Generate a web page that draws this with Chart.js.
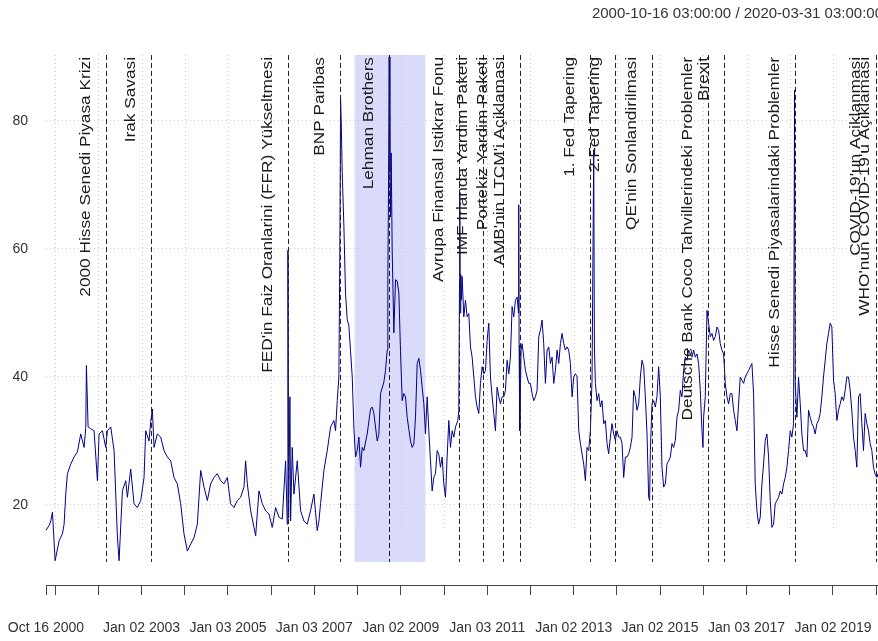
<!DOCTYPE html>
<html>
<head>
<meta charset="utf-8">
<script src="https://cdn.jsdelivr.net/npm/chart.js@4.4.1/dist/chart.umd.min.js"></script>
<style>
  html, body { margin: 0; padding: 0; background: #fff; overflow: hidden; }
  #wrap { width: 878px; height: 641px; overflow: hidden; }
</style>
</head>
<body>
<div id="wrap"><canvas id="volChart" width="892" height="641"></canvas></div>
<script>
// Series: dates as decimal years, values of the index
const dates = [
  2000.785,2000.862,2000.901,2000.939,2001.001,2001.093,2001.170,2001.209,2001.247,2001.286,
  2001.363,2001.440,2001.517,2001.594,2001.671,2001.710,2001.725,2001.764,2001.825,2001.902,
  2001.980,2002.018,2002.095,2002.172,2002.211,2002.288,2002.365,2002.442,2002.481,2002.558,
  2002.635,2002.673,2002.750,2002.827,2002.904,2002.982,2003.059,2003.097,2003.174,2003.213,
  2003.251,2003.290,2003.367,2003.444,2003.521,2003.598,2003.675,2003.752,2003.829,2003.906,
  2003.983,2004.061,2004.138,2004.215,2004.292,2004.369,2004.446,2004.523,2004.600,2004.677,
  2004.754,2004.831,2004.908,2004.985,2005.062,2005.140,2005.217,2005.294,2005.371,2005.409,
  2005.448,2005.525,2005.602,2005.641,2005.718,2005.795,2005.872,2005.949,2006.026,2006.103,
  2006.180,2006.257,2006.334,2006.373,2006.388,2006.404,2006.434,2006.450,2006.488,2006.527,
  2006.604,2006.681,2006.758,2006.835,2006.912,2006.989,2007.066,2007.105,2007.143,2007.220,
  2007.298,2007.375,2007.452,2007.490,2007.529,2007.567,2007.590,2007.606,2007.621,2007.644,
  2007.683,2007.721,2007.760,2007.798,2007.837,2007.876,2007.914,2007.953,2007.991,2008.030,
  2008.068,2008.107,2008.145,2008.222,2008.300,2008.338,2008.377,2008.454,2008.492,2008.531,
  2008.608,2008.646,2008.685,2008.700,2008.716,2008.731,2008.747,2008.762,2008.777,2008.800,
  2008.839,2008.878,2008.916,2008.955,2008.993,2009.032,2009.070,2009.109,2009.147,2009.224,
  2009.263,2009.301,2009.340,2009.379,2009.417,2009.456,2009.494,2009.533,2009.571,2009.610,
  2009.648,2009.687,2009.725,2009.764,2009.802,2009.841,2009.880,2009.918,
  2009.957,2009.995,2010.034,2010.072,2010.111,2010.149,2010.188,2010.227,2010.265,2010.319,
  2010.342,2010.358,2010.365,2010.373,2010.388,2010.404,2010.419,2010.458,2010.496,2010.535,
  2010.573,2010.612,2010.650,2010.689,2010.727,2010.766,2010.805,2010.843,2010.882,2010.920,
  2010.959,2010.997,2011.036,2011.074,2011.113,2011.151,2011.190,2011.228,2011.267,2011.306,
  2011.344,2011.383,2011.421,2011.460,2011.498,2011.537,2011.575,2011.614,2011.652,2011.691,
  2011.722,2011.729,2011.737,2011.753,2011.783,2011.807,2011.845,2011.884,2011.922,2011.961,
  2011.999,2012.038,2012.076,2012.115,2012.153,2012.192,2012.230,2012.269,2012.307,2012.346,
  2012.385,2012.423,2012.462,2012.500,2012.539,2012.577,2012.616,2012.654,2012.693,2012.731,
  2012.770,2012.808,2012.847,2012.885,2012.924,2012.963,2013.001,2013.040,2013.078,2013.117,
  2013.155,2013.194,2013.232,2013.271,2013.309,2013.348,2013.386,2013.425,2013.464,2013.479,
  2013.502,2013.541,2013.579,2013.618,2013.656,2013.695,2013.733,2013.772,2013.810,2013.849,
  2013.887,2013.926,2013.964,2014.003,2014.042,2014.080,2014.119,2014.157,2014.196,2014.234,
  2014.273,2014.311,2014.350,2014.388,2014.427,2014.465,2014.504,2014.543,2014.581,2014.620,
  2014.658,2014.697,2014.735,2014.758,2014.774,2014.812,2014.851,2014.889,2014.928,2014.966,
  2015.005,2015.043,2015.082,2015.121,2015.159,2015.198,2015.236,2015.275,2015.313,2015.352,
  2015.390,2015.429,2015.467,2015.506,2015.544,2015.583,2015.622,2015.660,2015.699,2015.737,
  2015.776,2015.814,2015.853,2015.891,2015.930,2015.968,2015.991,2016.007,2016.045,2016.084,
  2016.122,2016.161,2016.200,2016.238,2016.277,2016.315,2016.354,2016.392,2016.431,2016.469,
  2016.508,2016.546,2016.585,2016.623,2016.662,2016.700,2016.739,2016.778,2016.816,2016.855,
  2016.893,2016.932,2016.970,2017.009,2017.047,2017.086,2017.124,2017.163,2017.201,2017.240,
  2017.279,2017.317,2017.356,2017.394,2017.433,2017.471,2017.510,2017.548,2017.587,2017.625,
  2017.664,2017.702,2017.741,2017.779,2017.818,2017.857,2017.895,2017.934,2017.972,2018.011,
  2018.049,2018.088,2018.111,2018.126,2018.165,2018.203,2018.242,2018.280,2018.319,2018.358,
  2018.396,2018.435,2018.473,2018.512,2018.550,2018.589,2018.627,2018.666,2018.704,2018.743,
  2018.781,2018.820,2018.858,2018.897,2018.936,2018.974,2019.013,2019.051,2019.090,2019.128,
  2019.167,2019.205,2019.244,2019.282,2019.321,2019.359,2019.398,2019.436,2019.475,2019.514,
  2019.552,2019.591,2019.629,2019.668,2019.706,2019.745,2019.783,2019.822,2019.860,2019.899,
  2019.937,2019.976,2020.015,2020.080,2020.140,2020.200,2020.250
];
const values = [
  16.0,16.8,17.5,18.9,11.3,14.4,15.5,17.0,21.7,24.9,
  26.4,27.5,28.3,31.1,29.0,32.0,41.8,32.2,31.9,31.6,
  23.8,31.1,31.6,29.0,31.6,32.2,28.5,15.0,11.3,22.2,
  23.8,21.2,25.6,20.2,19.6,20.7,24.3,31.6,30.0,33.0,
  35.0,29.0,31.1,30.6,28.5,27.5,26.9,24.3,23.3,20.2,
  15.5,12.8,13.9,14.9,17.0,25.4,22.8,20.7,23.3,24.3,
  24.9,23.8,23.3,24.3,20.2,19.6,20.7,21.2,22.8,26.9,
  23.3,19.1,16.5,15.2,22.2,20.2,19.1,18.6,16.5,19.6,
  18.1,17.8,26.9,17.0,59.8,18.0,36.9,17.5,29.0,21.7,
  26.9,19.1,17.5,17.0,19.1,21.7,16.0,17.5,20.2,25.4,
  28.5,32.2,33.2,31.6,36.3,40.0,60.0,83.5,80.0,72.0,
  63.5,53.0,49.0,48.0,44.0,40.0,32.0,27.5,28.5,30.6,
  25.9,29.0,28.5,31.1,35.0,35.3,34.3,30.0,31.0,37.4,
  39.2,41.0,44.2,55.0,70.0,90.0,72.0,65.0,75.0,60.0,
  46.9,55.2,55.0,53.1,44.0,36.3,37.4,36.9,33.7,30.0,
  29.0,29.5,33.7,42.1,42.9,41.0,38.4,35.8,31.1,36.9,
  31.6,26.9,22.2,24.3,24.9,28.5,27.9,25.9,
  27.5,23.3,21.2,27.5,33.2,29.0,31.6,30.6,32.2,33.2,
  34.8,55.0,68.9,50.0,56.0,52.0,55.7,49.4,52.0,49.4,
  49.9,44.7,43.1,40.0,36.9,35.3,34.3,39.0,41.6,40.5,
  41.0,45.7,48.4,40.0,36.9,34.3,31.6,38.4,36.9,35.8,
  36.9,36.9,37.9,42.6,40.5,43.1,51.0,49.4,52.0,52.5,
  50.0,66.9,45.0,31.6,44.2,45.2,43.1,41.0,40.0,39.0,
  39.0,37.4,36.3,36.9,37.9,46.3,47.3,48.9,45.2,39.0,
  44.2,44.7,42.1,43.1,39.0,41.0,44.2,42.1,45.2,46.8,
  45.2,44.2,44.7,44.2,42.1,36.9,40.0,40.5,40.0,31.6,
  29.6,28.0,26.4,23.8,29.0,28.5,31.6,39.5,75.5,45.0,
  39.0,36.3,37.4,35.3,36.3,32.7,33.2,29.6,28.0,30.6,
  32.7,31.1,30.1,31.6,30.6,30.6,29.6,24.3,27.5,27.5,
  28.0,29.0,30.6,37.9,36.9,34.8,35.8,40.0,42.6,41.6,
  36.9,31.1,21.2,20.7,28.5,35.8,36.3,35.3,36.9,41.6,
  36.9,25.9,22.8,23.3,26.4,26.9,27.5,29.6,29.0,30.1,
  33.7,34.8,37.9,36.9,41.0,43.1,42.6,44.2,43.6,43.1,
  44.2,43.1,43.6,42.1,37.9,31.6,29.0,33.7,36.9,50.4,
  48.4,46.3,46.8,45.7,46.3,47.8,47.3,45.2,44.2,43.6,
  39.0,36.9,35.8,37.4,37.4,34.8,33.2,31.6,35.8,40.0,
  39.5,39.0,40.0,40.5,41.0,41.6,42.1,37.4,23.3,19.1,
  17.0,18.1,23.3,26.4,30.1,31.1,27.5,20.7,16.5,17.0,
  20.2,20.7,21.2,22.2,21.7,23.3,24.3,25.9,28.5,31.6,
  30.6,32.7,84.8,39.0,33.7,40.0,35.8,31.1,28.5,28.5,
  27.5,34.8,33.7,32.7,32.2,31.1,32.7,33.2,34.3,36.9,
  40.0,42.6,45.2,46.8,48.4,47.8,39.5,37.4,33.2,34.8,
  35.8,36.9,36.3,37.9,40.0,40.0,37.9,34.8,30.6,28.5,
  25.9,36.9,37.4,32.7,28.5,34.3,32.7,31.6,29.6,28.5,
  25.9,24.8,24.3,25.5,28.0,36.0,40.0
];

// Axis ticks
const xTickYears = [2000.79, 2001, 2002, 2003, 2004, 2005, 2006, 2007, 2008, 2009, 2010,
  2011, 2012, 2013, 2014, 2015, 2016, 2017, 2018, 2019, 2020];
const xTickLabels = ['Oct 16 2000', '', '', 'Jan 02 2003', '', 'Jan 03 2005', '', 'Jan 03 2007', '',
  'Jan 02 2009', '', 'Jan 03 2011', '', 'Jan 02 2013', '', 'Jan 02 2015', '', 'Jan 03 2017', '',
  'Jan 02 2019', ''];
const yTicks = [20, 40, 60, 80];

// Events marked with dashed lines
const eventNames = [
  '2000 Hisse Senedi Piyasa Krizi',
  'Irak Savasi',
  "FED'in Faiz Oranlarini (FFR) Yükseltmesi",
  'BNP Paribas',
  'Lehman Brothers',
  'Avrupa Finansal Istikrar Fonu',
  'IMF Irlanda Yardim Paketi',
  'Portekiz Yardim Paketi',
  "AMB'nin LTCM'i Açiklamasi",
  '1. Fed Tapering',
  '2.Fed Tapering',
  "QE'nin Sonlandirilmasi",
  'Deutsche Bank Coco Tahvillerindeki Problemler',
  'Brexit',
  'Hisse Senedi Piyasalarindaki Problemler',
  "COVID-19'un Açiklanmasi",
  "WHO'nun COVID-19'u Açiklamasi"
];
const eventYears = [2002.172, 2003.224, 2006.387, 2007.594, 2008.716, 2010.357, 2010.905, 2011.368,
  2011.751, 2013.386, 2013.948, 2014.813, 2016.108, 2016.468, 2018.126, 2020.0, 2020.2];

// Shaded recession period
const shadeStart = 2007.93;
const shadeEnd = 2009.57;

const rangeTitle = '2000-10-16 03:00:00 / 2020-03-31 03:00:00';

const FONT = '"Liberation Sans", Arial, sans-serif';
const panelFloor = 11.1;   // bottom of the shaded panel
const gridFloor = 16.4;    // where vertical grid lines stop

const xtsOverlay = {
  id: 'xtsOverlay',
  beforeDraw(chart) {
    const {ctx, chartArea: area, scales: {x, y}} = chart;
    const x0 = x.getPixelForValue(shadeStart);
    const x1 = x.getPixelForValue(shadeEnd);
    ctx.save();
    ctx.fillStyle = '#dadafa';
    ctx.fillRect(x0, area.top, x1 - x0, y.getPixelForValue(panelFloor) - area.top);
    ctx.restore();
  },
  beforeDatasetsDraw(chart) {
    const {ctx, chartArea: area, scales: {x, y}} = chart;
    const bottom = y.getPixelForValue(gridFloor);
    ctx.save();
    ctx.strokeStyle = '#cccccc';
    ctx.lineWidth = 1;
    ctx.setLineDash([1, 3]);
    xTickYears.slice(1).forEach(v => {
      const px = Math.round(x.getPixelForValue(v)) + 0.5;
      ctx.beginPath();
      ctx.moveTo(px, area.top);
      ctx.lineTo(px, bottom);
      ctx.stroke();
    });
    ctx.restore();
  },
  afterDatasetsDraw(chart) {
    const {ctx, chartArea: area, scales: {x, y}} = chart;
    const bottom = y.getPixelForValue(panelFloor);
    ctx.save();
    ctx.strokeStyle = '#222';
    ctx.lineWidth = 1;
    ctx.setLineDash([5, 3]);
    eventYears.forEach(v => {
      const px = Math.round(x.getPixelForValue(v)) + 0.5;
      ctx.beginPath();
      ctx.moveTo(px, area.top);
      ctx.lineTo(px, bottom);
      ctx.stroke();
    });
    ctx.setLineDash([]);

    // rotated event labels, right-justified at the top of the panel
    ctx.fillStyle = '#1a1a1a';
    ctx.font = '15px ' + FONT;
    ctx.textAlign = 'right';
    ctx.textBaseline = 'alphabetic';
    eventNames.forEach((name, i) => {
      const px = x.getPixelForValue(eventYears[i]);
      ctx.save();
      ctx.translate(px - 16, area.top + 2);
      ctx.rotate(-Math.PI / 2);
      ctx.scale(1.15, 1);
      ctx.fillText(name, 0, 0);
      ctx.restore();
    });

    // date range in the top right corner
    ctx.font = '15px ' + FONT;
    ctx.fillStyle = '#333';
    ctx.textAlign = 'right';
    ctx.textBaseline = 'middle';
    ctx.fillText(rangeTitle, area.right - 4, 14);
    ctx.restore();
  }
};

new Chart(document.getElementById('volChart'), {
  type: 'line',
  data: {
    datasets: [{
      data: dates.map((d, i) => ({x: d, y: values[i]})),
      borderColor: '#00008b',
      borderWidth: 1,
      pointRadius: 0,
      tension: 0,
      fill: false
    }]
  },
  options: {
    responsive: false,
    animation: false,
    layout: { padding: { top: 55, right: 5, left: 0, bottom: 0 } },
    plugins: {
      legend: { display: false },
      tooltip: { enabled: false }
    },
    scales: {
      x: {
        type: 'linear',
        min: 2000.79,
        max: 2020.25,
        afterBuildTicks: scale => { scale.ticks = xTickYears.map(v => ({value: v})); },
        afterFit: scale => {
          scale.height = 56;
          scale.paddingLeft = 0;
          scale.paddingRight = 0;
        },
        grid: { drawOnChartArea: false, drawTicks: true, tickLength: 10, tickColor: '#444', tickWidth: 1 },
        border: { display: true, color: '#444', width: 1 },
        ticks: {
          autoSkip: false,
          maxRotation: 0,
          minRotation: 0,
          padding: 25,
          color: '#333',
          font: { family: FONT, size: 14 },
          callback: (value, index) => xTickLabels[index]
        }
      },
      y: {
        min: 7.5,
        max: 90.3,
        afterBuildTicks: scale => { scale.ticks = yTicks.map(v => ({value: v})); },
        afterFit: scale => {
          scale.width = 46;
          scale.paddingTop = 0;
          scale.paddingBottom = 0;
        },
        grid: { color: '#cccccc', lineWidth: 1, drawTicks: false },
        border: { display: false, dash: [1, 3] },
        ticks: {
          padding: 18,
          color: '#333',
          font: { family: FONT, size: 14 }
        }
      }
    }
  },
  plugins: [xtsOverlay]
});
</script>
</body>
</html>
